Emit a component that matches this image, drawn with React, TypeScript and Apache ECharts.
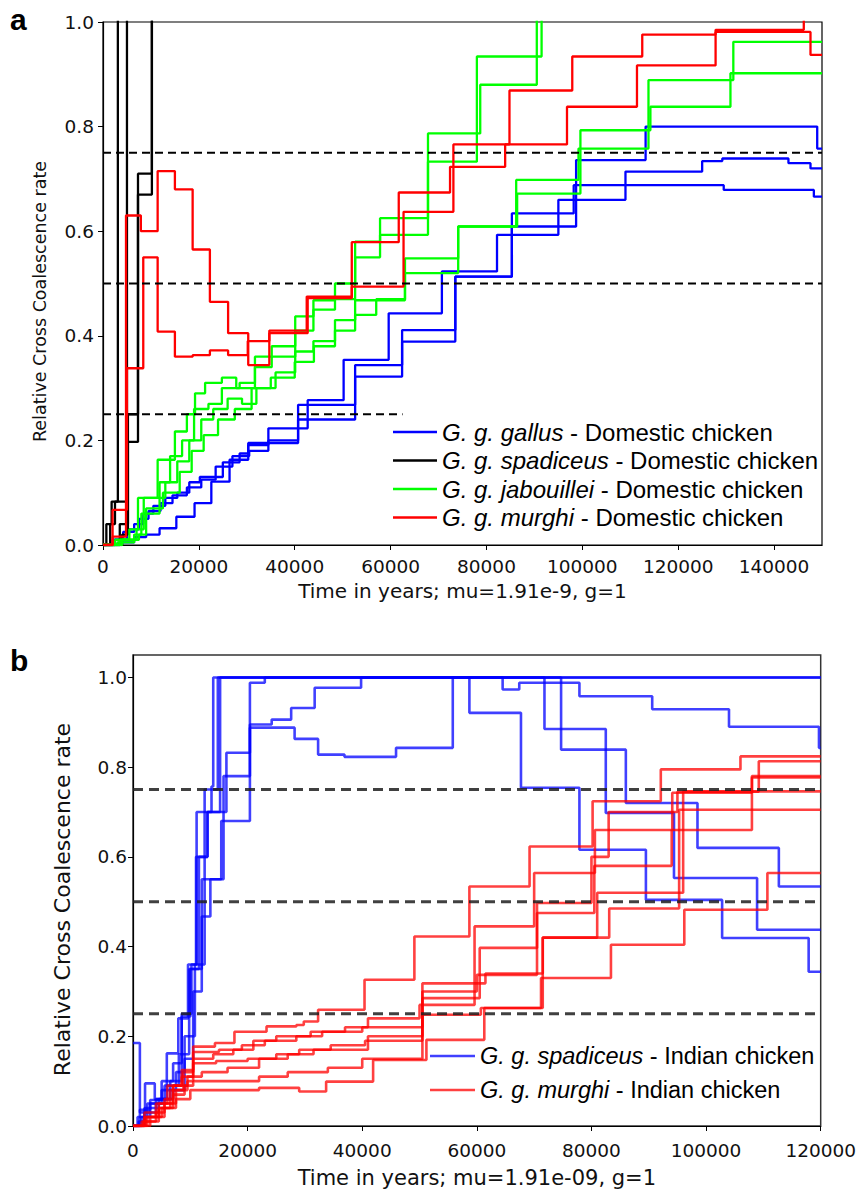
import React, { useEffect, useRef } from "react";
import * as echarts from "echarts";

// ---------- Panel a ----------
const A_X_TICKS = [0, 20000, 40000, 60000, 80000, 100000, 120000, 140000];
const A_Y_TICKS = [0, 0.2, 0.4, 0.6, 0.8, 1.0];
const A_REF_LEVELS = [0.75, 0.5, 0.25];
const A_REF_END = [150000, 150000, 62500];

const A_NAME_GALLUS = "G. g. gallus - Domestic chicken";
const A_NAME_SPAD = "G. g. spadiceus - Domestic chicken";
const A_NAME_JAB = "G. g. jabouillei - Domestic chicken";
const A_NAME_MURGHI = "G. g. murghi - Domestic chicken";

const A_GALLUS_1 = [[0,0],[2000,0.01],[4200,0.025],[6500,0.04],[8400,0.06],[10500,0.075],[13000,0.09],[15500,0.1],[18000,0.12],[20200,0.13],[25000,0.158],[28500,0.175],[30300,0.195],[40700,0.268],[52600,0.344],[62400,0.411],[73500,0.513],[85300,0.609],[98700,0.736],[113200,0.8],[149000,0.758],[150000,0.758]];
const A_GALLUS_2 = [[0,0],[2500,0.01],[5000,0.03],[7500,0.05],[9500,0.065],[12000,0.08],[14500,0.095],[17500,0.11],[20500,0.125],[23500,0.15],[27000,0.17],[30500,0.18],[34500,0.2],[40700,0.24],[52600,0.322],[62400,0.389],[73500,0.513],[85300,0.634],[98200,0.688],[129500,0.679],[148300,0.666],[150000,0.666]];
const A_GALLUS_3 = [[0,0],[3500,0.005],[6500,0.015],[9000,0.02],[11800,0.032],[15300,0.054],[19100,0.08],[22600,0.121],[26400,0.163],[30300,0.191],[34500,0.223],[42700,0.277],[50200,0.354],[59600,0.443],[70700,0.523],[82200,0.593],[95000,0.66],[109000,0.714],[125000,0.734],[129200,0.739],[143000,0.73],[147600,0.72],[150000,0.72]];

const A_SPAD_1 = [[0,0],[700,0.04],[1800,0.083],[3100,1.2]];
const A_SPAD_2 = [[0,0],[1500,0.04],[2500,0.083],[5000,1.2]];
const A_SPAD_3 = [[0,0],[3500,0.04],[5200,0.197],[7300,0.71],[10200,1.2]];
const A_SPAD_4 = [[0,0],[4000,0.02],[5200,0.25],[7300,0.67],[10200,1.2]];

const A_JAB_1 = [[0,0],[2500,0.01],[5500,0.03],[7300,0.09],[11400,0.163],[15000,0.217],[17500,0.25],[19200,0.29],[21300,0.31],[24800,0.32],[27800,0.3],[31700,0.36],[35200,0.38],[40100,0.437],[43900,0.468],[48400,0.5],[52600,0.58],[57800,0.625],[67800,0.787],[78700,0.88],[90500,1.2]];
const A_JAB_2 = [[0,0],[3000,0.005],[6500,0.02],[8000,0.06],[11800,0.12],[14000,0.17],[16500,0.2],[19000,0.26],[22000,0.27],[24800,0.3],[28500,0.31],[31700,0.34],[35200,0.36],[40100,0.41],[43900,0.45],[48400,0.47],[52600,0.55],[57800,0.593],[67800,0.733],[78000,0.934],[91500,1.2]];
const A_JAB_3 = [[0,0],[3500,0.01],[7000,0.03],[8500,0.09],[13000,0.12],[15500,0.16],[18000,0.2],[20500,0.24],[23000,0.26],[26000,0.28],[29000,0.27],[32000,0.3],[36000,0.33],[40100,0.37],[43900,0.39],[48400,0.43],[52600,0.468],[63000,0.548],[74100,0.609],[86200,0.698],[99200,0.758],[113800,0.889],[131500,0.962],[150000,0.962]];
const A_JAB_4 = [[0,0],[4000,0.01],[7500,0.02],[9000,0.07],[12500,0.1],[16000,0.14],[18500,0.18],[21000,0.21],[24000,0.24],[27500,0.26],[31000,0.3],[35000,0.32],[40000,0.35],[44000,0.38],[48400,0.41],[52600,0.44],[57000,0.47],[63000,0.52],[74100,0.609],[86400,0.672],[99600,0.793],[114200,0.838],[130900,0.902],[150000,0.902]];

const A_MURGHI_1 = [[0,0],[2000,0.016],[4800,0.63],[7900,0.6],[11400,0.715],[15000,0.68],[18700,0.565],[22300,0.465],[26100,0.405],[30300,0.344],[34700,0.405],[42700,0.472],[51900,0.579],[61700,0.674],[72400,0.723],[83900,0.766],[96800,0.838],[111400,0.917],[127800,0.981],[147600,0.937],[150000,0.937]];
const A_MURGHI_2 = [[0,0],[2000,0.067],[5000,0.338],[8400,0.55],[11400,0.408],[15000,0.36],[18700,0.363],[22300,0.372],[26100,0.363],[30200,0.39],[34700,0.41],[42500,0.475],[51900,0.494],[62700,0.637],[73100,0.766],[84800,0.869],[97900,0.934],[112500,0.976],[127800,0.985],[146200,1.2]];

// ---------- Panel b ----------
const B_X_TICKS = [0, 20000, 40000, 60000, 80000, 100000, 120000];
const B_Y_TICKS = [0, 0.2, 0.4, 0.6, 0.8, 1.0];
const B_REF_LEVELS = [0.75, 0.5, 0.25];

const B_NAME_SPAD = "G. g. spadiceus - Indian chicken";
const B_NAME_MURGHI = "G. g. murghi - Indian chicken";

const B_SPAD_1 = [[0,0],[1000,0.01],[2000,0.04],[4500,0.06],[6500,0.1],[8500,0.25],[10200,0.36],[11100,0.7],[13700,0.757],[14000,1.0],[120000,1.0]];
const B_SPAD_2 = [[0,0],[1500,0.02],[3000,0.05],[5500,0.09],[8000,0.16],[9800,0.35],[11500,0.6],[13000,0.7],[15200,1.0],[64500,0.973],[67400,0.988],[77900,0.958],[90600,0.929],[104000,0.89],[119700,0.843],[120000,0.843]];
const B_SPAD_3 = [[0,0],[2000,0.03],[4000,0.06],[7000,0.08],[9000,0.15],[10500,0.3],[12000,0.467],[13500,0.55],[15800,0.78],[20400,0.888],[28200,0.863],[32300,0.828],[36900,0.823],[45900,0.843],[55800,1.0],[58700,0.921],[67700,0.754],[77900,0.616],[89500,0.504],[102800,0.419],[117900,0.344],[120000,0.344]];
const B_SPAD_4 = [[0,0.185],[1200,0.03],[2100,0.095],[3800,0.06],[5900,0.162],[7900,0.24],[9600,0.36],[11000,0.6],[13000,0.7],[16300,0.832],[20400,0.988],[23000,1.0],[71800,0.885],[82500,0.698],[94400,0.553],[108900,0.4375],[120000,0.4375]];
const B_SPAD_5 = [[0,0],[1200,0.036],[3000,0.058],[5000,0.1],[7000,0.14],[8500,0.244],[10000,0.35],[12000,0.55],[15400,0.68],[20400,0.895],[24200,0.906],[27600,0.932],[31700,0.977],[39800,1.0],[74700,0.839],[86000,0.72],[98500,0.62],[112700,0.534],[120000,0.534]];
const B_SPAD_6 = [[0,0],[800,0.02],[2500,0.05],[5000,0.08],[7500,0.12],[9000,0.2],[10800,0.36],[12500,0.75],[14800,1.0],[120000,1.0]];

const B_MURGHI_1 = [[0,0],[1500,0.01],[4000,0.03],[5500,0.06],[7000,0.09],[8500,0.125],[10500,0.177],[14300,0.185],[17700,0.21],[23300,0.222],[28500,0.225],[29800,0.233],[32300,0.259],[40400,0.326],[49100,0.4225],[58700,0.534],[69200,0.623],[80200,0.724],[92100,0.795],[106000,0.824],[120000,0.824]];
const B_MURGHI_2 = [[0,0],[2000,0.02],[4000,0.05],[6000,0.09],[8500,0.11],[10500,0.15],[14000,0.16],[17500,0.17],[21000,0.19],[25000,0.2],[31000,0.21],[37000,0.22],[41000,0.24],[50000,0.27],[59600,0.445],[70000,0.564],[80600,0.66],[94100,0.743],[108000,0.78],[120000,0.78]];
const B_MURGHI_3 = [[0,0],[2500,0.02],[4500,0.04],[6500,0.08],[8800,0.12],[10500,0.165],[15000,0.17],[19000,0.18],[23000,0.19],[28500,0.2],[33000,0.21],[40000,0.22],[50500,0.285],[60500,0.397],[70500,0.497],[80000,0.6],[83000,0.7],[95000,0.745],[109200,0.813],[120000,0.813]];
const B_MURGHI_4 = [[0,0],[3000,0.02],[5500,0.05],[7500,0.08],[9500,0.1],[10500,0.14],[14500,0.145],[20000,0.15],[25000,0.16],[29000,0.17],[34500,0.18],[40500,0.19],[50500,0.3],[60000,0.337],[70500,0.475],[80500,0.58],[94000,0.66],[108000,0.777],[120000,0.777]];
const B_MURGHI_5 = [[0,0],[2000,0.03],[4500,0.05],[7000,0.09],[9500,0.11],[12000,0.12],[16500,0.13],[22000,0.15],[27000,0.16],[31500,0.17],[41000,0.2],[50500,0.318],[61500,0.34],[71500,0.42],[81000,0.52],[96000,0.746],[120000,0.746]];
const B_MURGHI_6 = [[0,0],[1800,0.01],[4500,0.04],[7000,0.07],[9000,0.09],[10500,0.1],[15000,0.1],[22000,0.11],[27000,0.12],[34000,0.13],[40000,0.15],[50500,0.248],[60700,0.263],[71500,0.42],[83100,0.485],[95300,0.705],[120000,0.705]];
const B_MURGHI_7 = [[0,0],[2200,0.02],[5000,0.04],[7500,0.06],[10000,0.08],[22000,0.085],[29000,0.077],[33700,0.099],[41900,0.147],[51200,0.192],[61300,0.263],[71200,0.33],[83400,0.404],[96200,0.482],[110700,0.564],[120000,0.564]];

const AXIS_FONT = "DejaVu Sans";
const LEGEND_FONT = "Liberation Sans";

function stepLine(name: string, data: number[][], color: string, width: number, idx: number) {
  return {
    type: "line",
    name,
    data,
    step: "end",
    symbol: "none",
    showSymbol: false,
    xAxisIndex: idx,
    yAxisIndex: idx,
    clip: true,
    silent: true,
    z: 2,
    itemStyle: { color },
    lineStyle: { color, width },
  };
}

function refLine(level: number, end: number, idx: number, color: string, width: number, dash: number[]) {
  return {
    type: "line",
    data: [[0, level], [end, level]],
    symbol: "none",
    showSymbol: false,
    xAxisIndex: idx,
    yAxisIndex: idx,
    silent: true,
    z: 5,
    lineStyle: { color, width, type: dash },
  };
}

function legendFormatter(name: string) {
  const [sp, rest] = name.split(" - ");
  return `{i|${sp}}{r| - ${rest}}`;
}

function makeXAxis(idx: number, max: number, ticks: number[], name: string, nameGap: number, fs: number, nfs: number, margin: number) {
  return {
    gridIndex: idx,
    type: "value",
    min: 0,
    max,
    axisLine: { show: true, onZero: false, lineStyle: { color: "#000", width: 1.2 } },
    axisTick: { show: true, inside: false, length: 5, customValues: ticks, lineStyle: { color: "#000", width: 1 } },
    axisLabel: { customValues: ticks, fontFamily: AXIS_FONT, fontSize: fs, color: "#111", margin, formatter: (v: number) => String(v) },
    splitLine: { show: false },
    name,
    nameLocation: "middle",
    nameGap,
    nameTextStyle: { fontFamily: AXIS_FONT, fontSize: nfs, color: "#111" },
  };
}

function makeYAxis(idx: number, max: number, ticks: number[], nameGap: number, fs: number, nfs: number, margin: number, shift: number) {
  return {
    gridIndex: idx,
    type: "value",
    min: 0,
    max,
    axisLine: { show: true, onZero: false, lineStyle: { color: "#000", width: 1.2 } },
    axisTick: { show: true, inside: false, length: 5, customValues: ticks, lineStyle: { color: "#000", width: 1 } },
    axisLabel: {
      customValues: ticks,
      fontFamily: AXIS_FONT,
      fontSize: fs,
      color: "#111",
      margin,
      formatter: (v: number) => v.toFixed(1),
    },
    splitLine: { show: false },
    name: "Relative Cross Coalescence rate",
    nameLocation: "middle",
    nameGap,
    nameRotate: 90,
    nameTextStyle: { fontFamily: AXIS_FONT, fontSize: nfs, color: "#111", padding: [0, shift, 0, 0] },
  };
}

export default function App() {
  const ref = useRef<HTMLDivElement>(null);
  useEffect(() => {
    if (!ref.current) return;
    const chart = echarts.init(ref.current, undefined, { renderer: "svg" });
    const BLUE_A = "#0000ff";
    const BLACK_A = "#000000";
    const GREEN_A = "#00ff00";
    const RED_A = "#ff0000";
    const BLUE_B = "rgba(0,0,255,0.75)";
    const RED_B = "rgba(255,0,0,0.75)";
    const wA = 2.3;
    const wB = 2.6;

    const series: any[] = [
      ...[A_GALLUS_1, A_GALLUS_2, A_GALLUS_3].map((d) => stepLine(A_NAME_GALLUS, d, BLUE_A, wA, 0)),
      ...[A_SPAD_1, A_SPAD_2, A_SPAD_3, A_SPAD_4].map((d) => stepLine(A_NAME_SPAD, d, BLACK_A, wA, 0)),
      ...[A_JAB_1, A_JAB_2, A_JAB_3, A_JAB_4].map((d) => stepLine(A_NAME_JAB, d, GREEN_A, wA, 0)),
      ...[A_MURGHI_1, A_MURGHI_2].map((d) => stepLine(A_NAME_MURGHI, d, RED_A, wA, 0)),
      ...A_REF_LEVELS.map((l, i) => refLine(l, A_REF_END[i], 0, "#000", 2, [8, 5])),
      ...[B_SPAD_1, B_SPAD_2, B_SPAD_3, B_SPAD_4, B_SPAD_5, B_SPAD_6].map((d) => stepLine(B_NAME_SPAD, d, BLUE_B, wB, 1)),
      ...[B_MURGHI_1, B_MURGHI_2, B_MURGHI_3, B_MURGHI_4, B_MURGHI_5, B_MURGHI_6, B_MURGHI_7].map((d) => stepLine(B_NAME_MURGHI, d, RED_B, wB, 1)),
      ...B_REF_LEVELS.map((l) => refLine(l, 120000, 1, "rgba(30,30,30,0.85)", 3, [10, 6])),
    ];

    const legendText = (fs: number, lh: number) => ({
      fontFamily: LEGEND_FONT,
      fontSize: fs,
      color: "#000",
      lineHeight: lh,
      rich: {
        i: { fontFamily: LEGEND_FONT, fontSize: fs, fontStyle: "italic", color: "#000", lineHeight: lh },
        r: { fontFamily: LEGEND_FONT, fontSize: fs, color: "#000", lineHeight: lh },
      },
    });

    chart.setOption({
      animation: false,
      backgroundColor: "#fff",
      grid: [
        { left: 103, top: 22, width: 719, height: 523, show: true, borderColor: "#000", borderWidth: 1.2, backgroundColor: "transparent" },
        { left: 133, top: 655, width: 690, height: 471, show: true, borderColor: "#333", borderWidth: 1.5, backgroundColor: "transparent" },
      ],
      xAxis: [
        makeXAxis(0, 150000, A_X_TICKS, "Time in years; mu=1.91e-9, g=1", 36, 18.5, 20, 12),
        makeXAxis(1, 120000, B_X_TICKS, "Time in years; mu=1.91e-09, g=1", 41, 18.5, 21, 15),
      ],
      yAxis: [
        makeYAxis(0, 1.0, A_Y_TICKS, 54, 18.5, 17.5, 9, 36),
        makeYAxis(1, 1.05, B_Y_TICKS, 60, 18.5, 22, 6, 18),
      ],
      legend: [
        {
          data: [A_NAME_GALLUS, A_NAME_SPAD, A_NAME_JAB, A_NAME_MURGHI],
          orient: "vertical",
          left: 393,
          top: 419,
          padding: 0,
          icon: "rect",
          itemWidth: 44,
          itemHeight: 2.5,
          itemGap: 2.5,
          selectedMode: false,
          formatter: legendFormatter,
          textStyle: legendText(24, 26),
        },
        {
          data: [B_NAME_SPAD, B_NAME_MURGHI],
          orient: "vertical",
          left: 430,
          top: 1043,
          padding: [0, 4, 0, 0],
          icon: "rect",
          itemWidth: 45,
          itemHeight: 2.6,
          itemGap: 8,
          selectedMode: false,
          backgroundColor: "#fff",
          formatter: legendFormatter,
          textStyle: legendText(23.5, 26),
        },
      ],
      graphic: [
        { type: "text", left: 10, top: 4, style: { text: "a", fontFamily: LEGEND_FONT, fontWeight: "bold", fontSize: 30, fill: "#000" } },
        { type: "text", left: 10, top: 645, style: { text: "b", fontFamily: LEGEND_FONT, fontWeight: "bold", fontSize: 30, fill: "#000" } },
      ],
      series,
    });
    return () => chart.dispose();
  }, []);
  return <div ref={ref} style={{ position: "absolute", left: 0, top: 0, width: 859, height: 1193 }} />;
}
